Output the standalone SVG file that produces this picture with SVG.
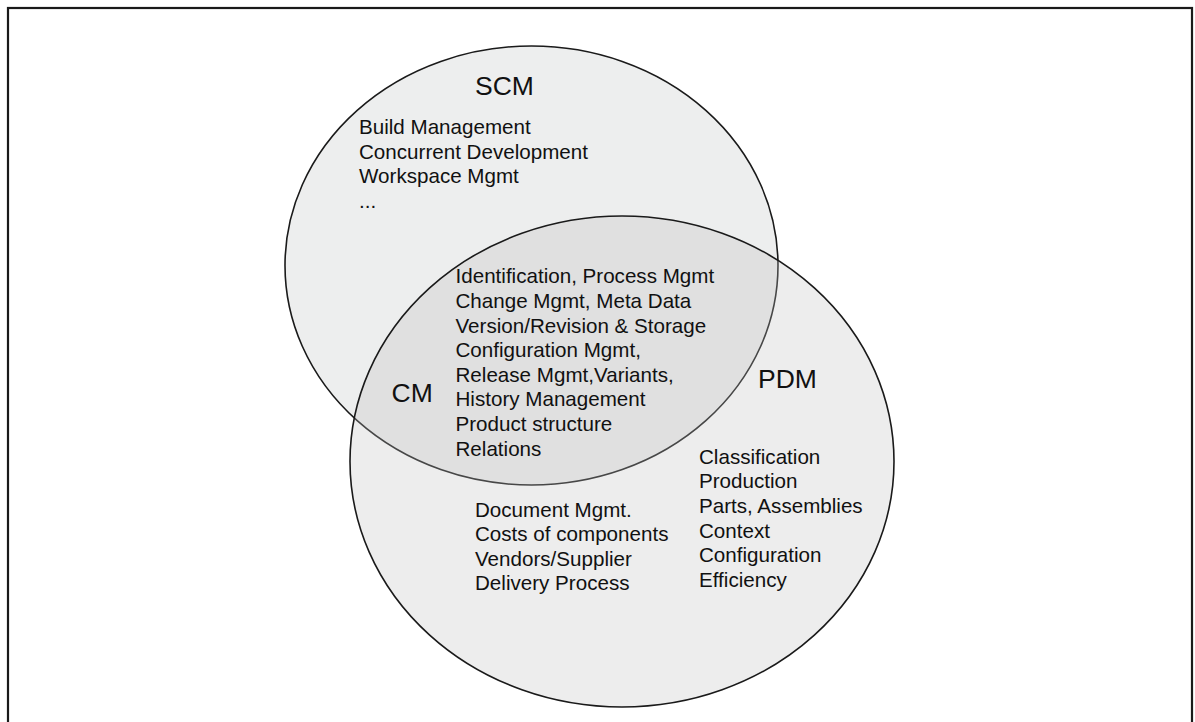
<svg xmlns="http://www.w3.org/2000/svg" width="1195" height="722" viewBox="0 0 1195 722">
  <style>
    .frame { fill: #ffffff; stroke: #1a1a1a; stroke-width: 2.2; }
    .set { stroke: #1a1a1a; stroke-width: 1.6; }
    .scm { fill: #edeeee; }
    .pdm { fill: rgb(190,192,192); fill-opacity: 0.28; }
    .title { font-family: "Liberation Sans", Arial, sans-serif; font-size: 26.5px; fill: #111111; }
    .item { font-family: "Liberation Sans", Arial, sans-serif; font-size: 20.6px; fill: #111111; }
  </style>
  <rect class="frame" x="8" y="8" width="1184" height="730"/>
  <g id="scm">
    <ellipse class="set scm" cx="531.5" cy="265.5" rx="246.5" ry="219.5"/>
    <text class="title" x="475" y="94.5">SCM</text>
    <text class="item" x="359" y="134">Build Management</text>
    <text class="item" x="359" y="158.5">Concurrent Development</text>
    <text class="item" x="359" y="183">Workspace Mgmt</text>
    <text class="item" x="359" y="207.5">...</text>
  </g>
  <g id="pdm">
    <ellipse class="set pdm" cx="622" cy="461.5" rx="272" ry="245.5"/>
    <text class="title" x="758" y="387.5">PDM</text>
    <text class="item" x="699" y="463.5">Classification</text>
    <text class="item" x="699" y="488.2">Production</text>
    <text class="item" x="699" y="512.9">Parts, Assemblies</text>
    <text class="item" x="699" y="537.6">Context</text>
    <text class="item" x="699" y="562.3">Configuration</text>
    <text class="item" x="699" y="587">Efficiency</text>
    <text class="item" x="475" y="516.7">Document Mgmt.</text>
    <text class="item" x="475" y="541.2">Costs of components</text>
    <text class="item" x="475" y="565.7">Vendors/Supplier</text>
    <text class="item" x="475" y="590.2">Delivery Process</text>
  </g>
  <g id="cm">
    <text class="title" x="391.5" y="401.7">CM</text>
    <text class="item" x="455.5" y="283.3">Identification, Process Mgmt</text>
    <text class="item" x="455.5" y="307.9">Change Mgmt, Meta Data</text>
    <text class="item" x="455.5" y="332.5">Version/Revision &amp; Storage</text>
    <text class="item" x="455.5" y="357.1">Configuration Mgmt,</text>
    <text class="item" x="455.5" y="381.7">Release Mgmt,Variants,</text>
    <text class="item" x="455.5" y="406.3">History Management</text>
    <text class="item" x="455.5" y="430.9">Product structure</text>
    <text class="item" x="455.5" y="455.5">Relations</text>
  </g>
  <g id="connectors"/>
</svg>
